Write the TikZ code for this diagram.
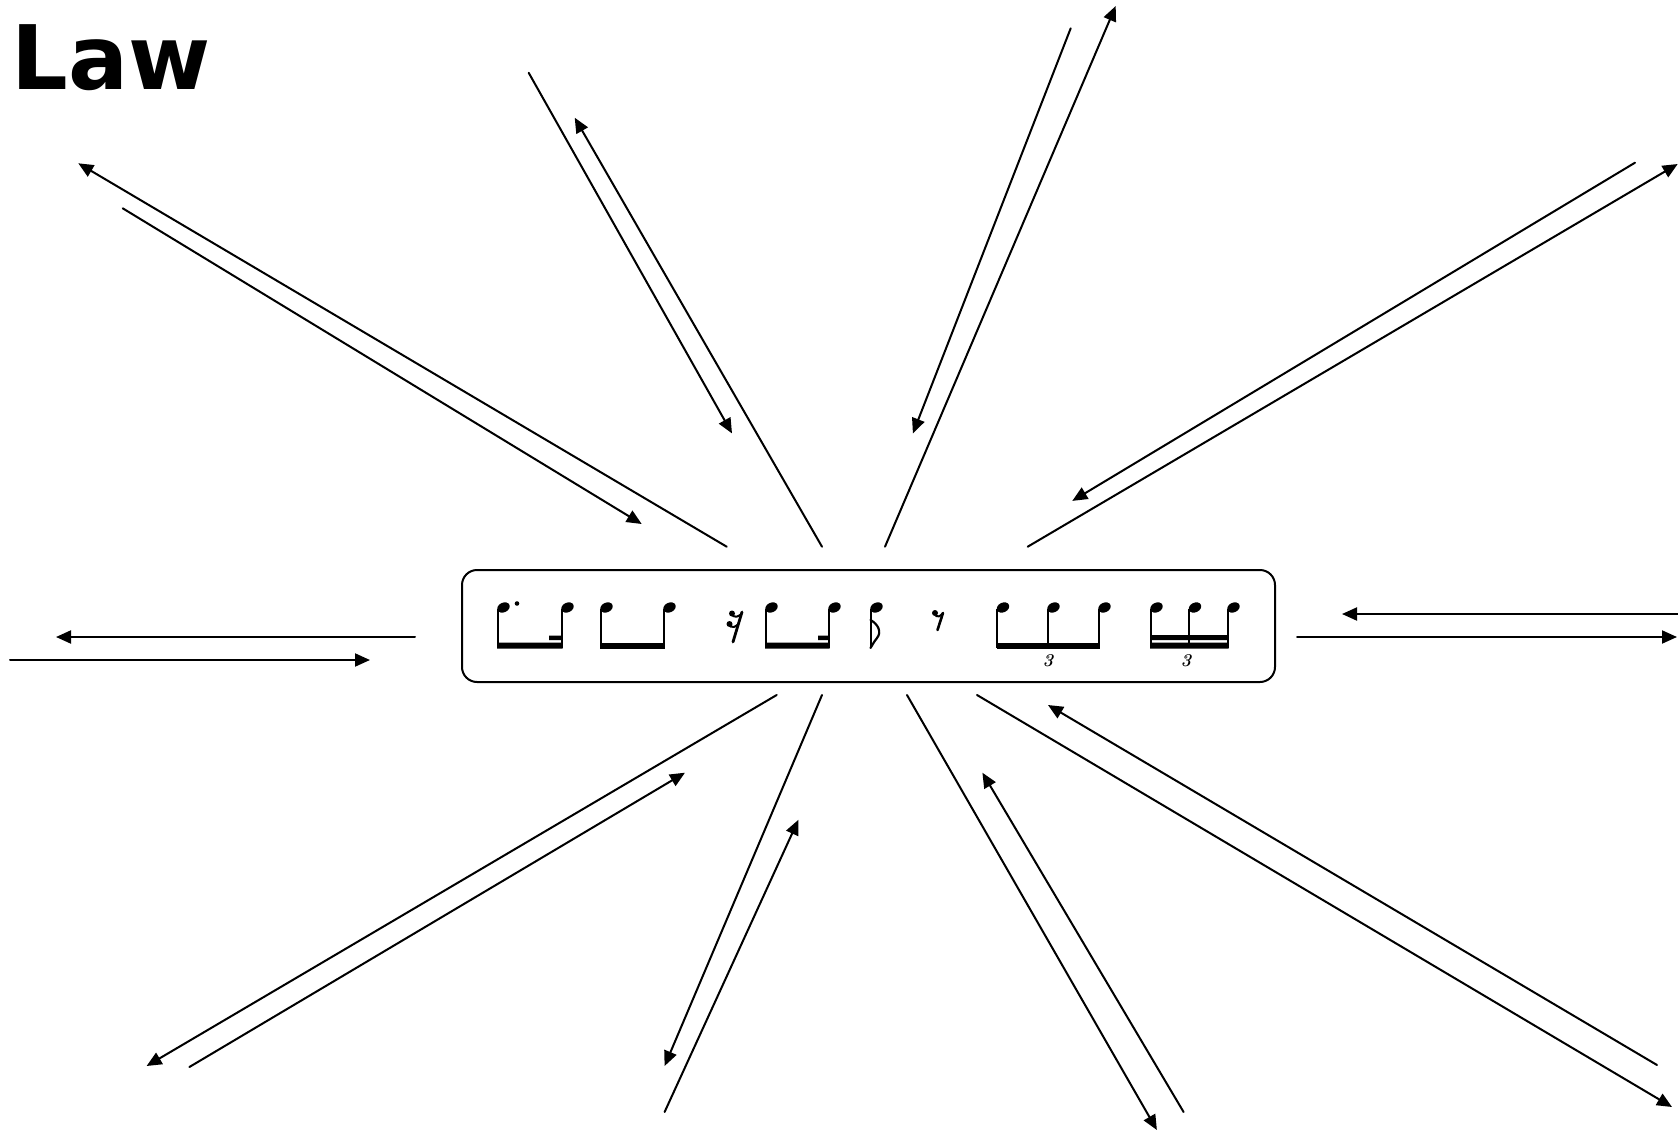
\documentclass[tikz,border=0pt]{standalone}
\usepackage{fontspec}
\setsansfont{DejaVu Sans}
\usetikzlibrary{arrows.meta}

\begin{document}
\begin{tikzpicture}[x=.5pt,y=-.5pt,line cap=round,line join=round,
  ink/.style={draw=black,line width=1pt},
  ray/.style={draw=black,line width=1pt,-{Triangle[length=7.5pt,width=6.5pt]}},
  stem/.style={draw=black,line width=1pt,line cap=butt},
  tuplet/.style={font=\fontsize{9}{10}\selectfont\bfseries\itshape,inner sep=0pt}]
\useasboundingbox (0,0) rectangle (1678,1135);
% Heading, cut at the top edge.
\node[font=\sffamily\bfseries\fontsize{44.5}{50}\selectfont,anchor=base west,inner sep=0pt]
  (title) at (11,90) {Law};

% Rhythm strip in the middle.
\node[ink,rounded corners=7.5pt,minimum width=406.5pt,minimum height=56pt]
  (score) at (868.5,626) {};
\foreach \s in {497.5,561.5,600.5,663.5,765.5,828.5,870.5,997,1047.5,1098.5,1150.5,1189,1227.5}{
  \fill[rotate around={25:(\s+6,607.5)}] (\s+6,607.5) ellipse (6.5 and 4.8);
  \draw[stem] (\s,609) -- (\s,648);
}
\fill (497,642.5) rectangle (562.5,648.5) (549,635.5) rectangle (562.5,640);
\fill (517,603.5) circle (2.3);
\fill (600,642.5) rectangle (664.5,648.5);
\fill (765,642.5) rectangle (829.5,648.5) (818,635.5) rectangle (829.5,640);
\fill (996.5,642.5) rectangle (1099.5,648.5);
\fill (1150,635) rectangle (1228.5,640) (1150,642.5) rectangle (1228.5,648.5);
% rests and flag
\draw[line width=1.4pt] (742,612) -- (733,642);
\fill (732,613.5) circle (3) (729.5,624) circle (3);
\draw[line width=1pt] (733,616) .. controls (737,617) .. (741.5,614)
  (730.5,626.5) .. controls (734,627.5) .. (738.5,624);
\draw[line width=1.1pt] (870.5,620) .. controls (878,624) and (882,632) .. (877,638)
  .. controls (874,642) .. (870.5,648);
\fill (935,613) circle (3);
\draw[line width=1pt] (936,616) .. controls (939,617) .. (943,613);
\draw[line width=1.3pt] (943,613) -- (937.5,630);
\node[tuplet] (three1) at (1048,661) {3};
\node[tuplet] (three2) at (1186,661) {3};

% Arrows fanning out round the strip.
\foreach \xa/\ya/\xb/\yb in {
  415/637/56/637, 10/660/370/660,
  1680/614/1342/614, 1297/637/1677/637,
  726.7/546.7/78.3/163.3, 122.7/208.3/641.7/524,
  528.7/72.8/732/433.4, 822/546.7/574.7/117.7,
  1070.7/28.3/912.9/433.4, 885/546.7/1115.7/6,
  1635/162.7/1072.3/500.9, 1027.7/546.7/1677.7/164,
  776.7/695/146.6/1066, 189.4/1067/685/772.7,
  822/695/664.6/1066, 664.6/1112/798.4/819.8,
  907/695/1156.9/1130, 1183.6/1112/982.4/772.7,
  977/695/1672/1107, 1657/1065/1048/705}
  \draw[ray] (\xa,\ya) -- (\xb,\yb);
\end{tikzpicture}
\end{document}
